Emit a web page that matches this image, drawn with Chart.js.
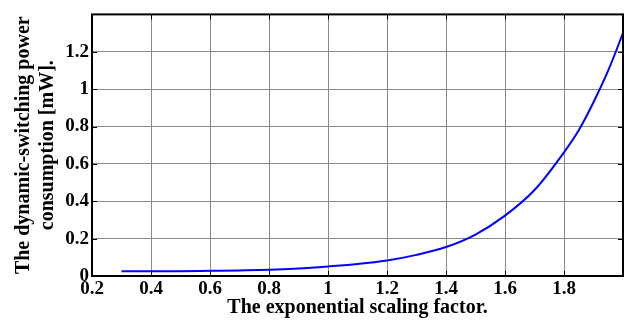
<!DOCTYPE html>
<html>
<head>
<meta charset="utf-8">
<script src="https://cdn.jsdelivr.net/npm/chart.js@4/dist/chart.umd.min.js"></script>
<style>
  html, body { margin: 0; padding: 0; background: #fff; }
  #wrap { width: 629px; height: 320px; }
</style>
</head>
<body>
<div id="wrap"><canvas id="powerChart" width="629" height="320"></canvas></div>
<script>
// values
const scalingFactor = [0.3, 0.4, 0.5, 0.6, 0.7, 0.8, 0.9, 1.0, 1.1, 1.2, 1.3, 1.4, 1.5, 1.6, 1.7, 1.8, 1.85, 1.9, 1.95, 2.0];
const powerMw = [0.025, 0.025, 0.026, 0.028, 0.030, 0.033, 0.040, 0.051, 0.064, 0.083, 0.113, 0.155, 0.222, 0.323, 0.46, 0.662, 0.78, 0.93, 1.1, 1.30];

const xTicks = [0.2, 0.4, 0.6, 0.8, 1, 1.2, 1.4, 1.6, 1.8];
const yTicks = [0, 0.2, 0.4, 0.6, 0.8, 1, 1.2];

const xTitle = 'The exponential scaling factor.';
const yTitle = ['The dynamic-switching power', 'consumption [mW].'];

const tickFont = { family: 'Liberation Serif', size: 19, weight: 'bold' };
const titleFont = { family: 'Liberation Serif', size: 20, weight: 'bold', lineHeight: 1.2 };

function fmt(v, shown) {
    const r = Math.round(v * 10) / 10;
    return shown.some(t => Math.abs(t - r) < 1e-6) ? String(r) : '';
}

/* ---------- BOX + INNER TICKS ---------- */
const boxPlugin = {
    id: 'box',
    afterDraw(chart) {
        const { ctx, chartArea: a, scales } = chart;
        ctx.save();
        ctx.strokeStyle = '#000';
        ctx.lineWidth = 1;
        ctx.beginPath();
        xTicks.concat([2.0]).forEach(v => {
            const px = Math.round(scales.x.getPixelForValue(v)) + 0.5;
            ctx.moveTo(px, a.bottom); ctx.lineTo(px, a.bottom - 5);
            ctx.moveTo(px, a.top); ctx.lineTo(px, a.top + 5);
        });
        yTicks.concat([1.4]).forEach(v => {
            const py = Math.round(scales.y.getPixelForValue(v)) + 0.5;
            ctx.moveTo(a.left, py); ctx.lineTo(a.left + 5, py);
            ctx.moveTo(a.right, py); ctx.lineTo(a.right - 5, py);
        });
        ctx.stroke();
        ctx.lineWidth = 2;
        ctx.strokeRect(a.left, a.top, a.right - a.left, a.bottom - a.top);
        ctx.restore();
    }
};

new Chart(document.getElementById('powerChart'), {
    type: 'line',
    plugins: [boxPlugin],
    data: {
        datasets: [{
            data: scalingFactor.map((x, i) => ({ x, y: powerMw[i] })),
            borderColor: '#0000ff',
            borderWidth: 2,
            pointRadius: 0,
            cubicInterpolationMode: 'monotone',
            fill: false
        }]
    },
    options: {
        responsive: false,
        animation: false,
        layout: { padding: { top: 10, right: 6, left: 12, bottom: 0 } },
        plugins: { legend: { display: false }, tooltip: { enabled: false } },
        scales: {
            x: {
                type: 'linear',
                min: 0.2,
                max: 2.0,
                afterBuildTicks: s => { s.ticks = xTicks.concat([2.0]).map(v => ({ value: v })); },
                afterFit: s => { s.height = 44; },
                grid: { color: '#8a8a8a', lineWidth: 1, drawTicks: false },
                border: { display: false },
                ticks: {
                    color: '#000',
                    font: tickFont,
                    padding: 2,
                    maxRotation: 0,
                    callback: v => fmt(v, xTicks)
                },
                title: {
                    display: true,
                    text: xTitle,
                    color: '#000',
                    font: titleFont,
                    padding: { top: -6, bottom: 0 }
                }
            },
            y: {
                min: 0,
                max: 1.4,
                afterBuildTicks: s => { s.ticks = yTicks.concat([1.4]).map(v => ({ value: v })); },
                afterFit: s => { s.width = 80; },
                grid: { color: '#8a8a8a', lineWidth: 1, drawTicks: false },
                border: { display: false },
                ticks: {
                    color: '#000',
                    font: tickFont,
                    padding: 3,
                    callback: v => fmt(v, yTicks)
                },
                title: {
                    display: true,
                    text: yTitle,
                    color: '#000',
                    font: titleFont,
                    padding: { top: 0, bottom: 0 }
                }
            }
        }
    }
});
</script>
</body>
</html>
